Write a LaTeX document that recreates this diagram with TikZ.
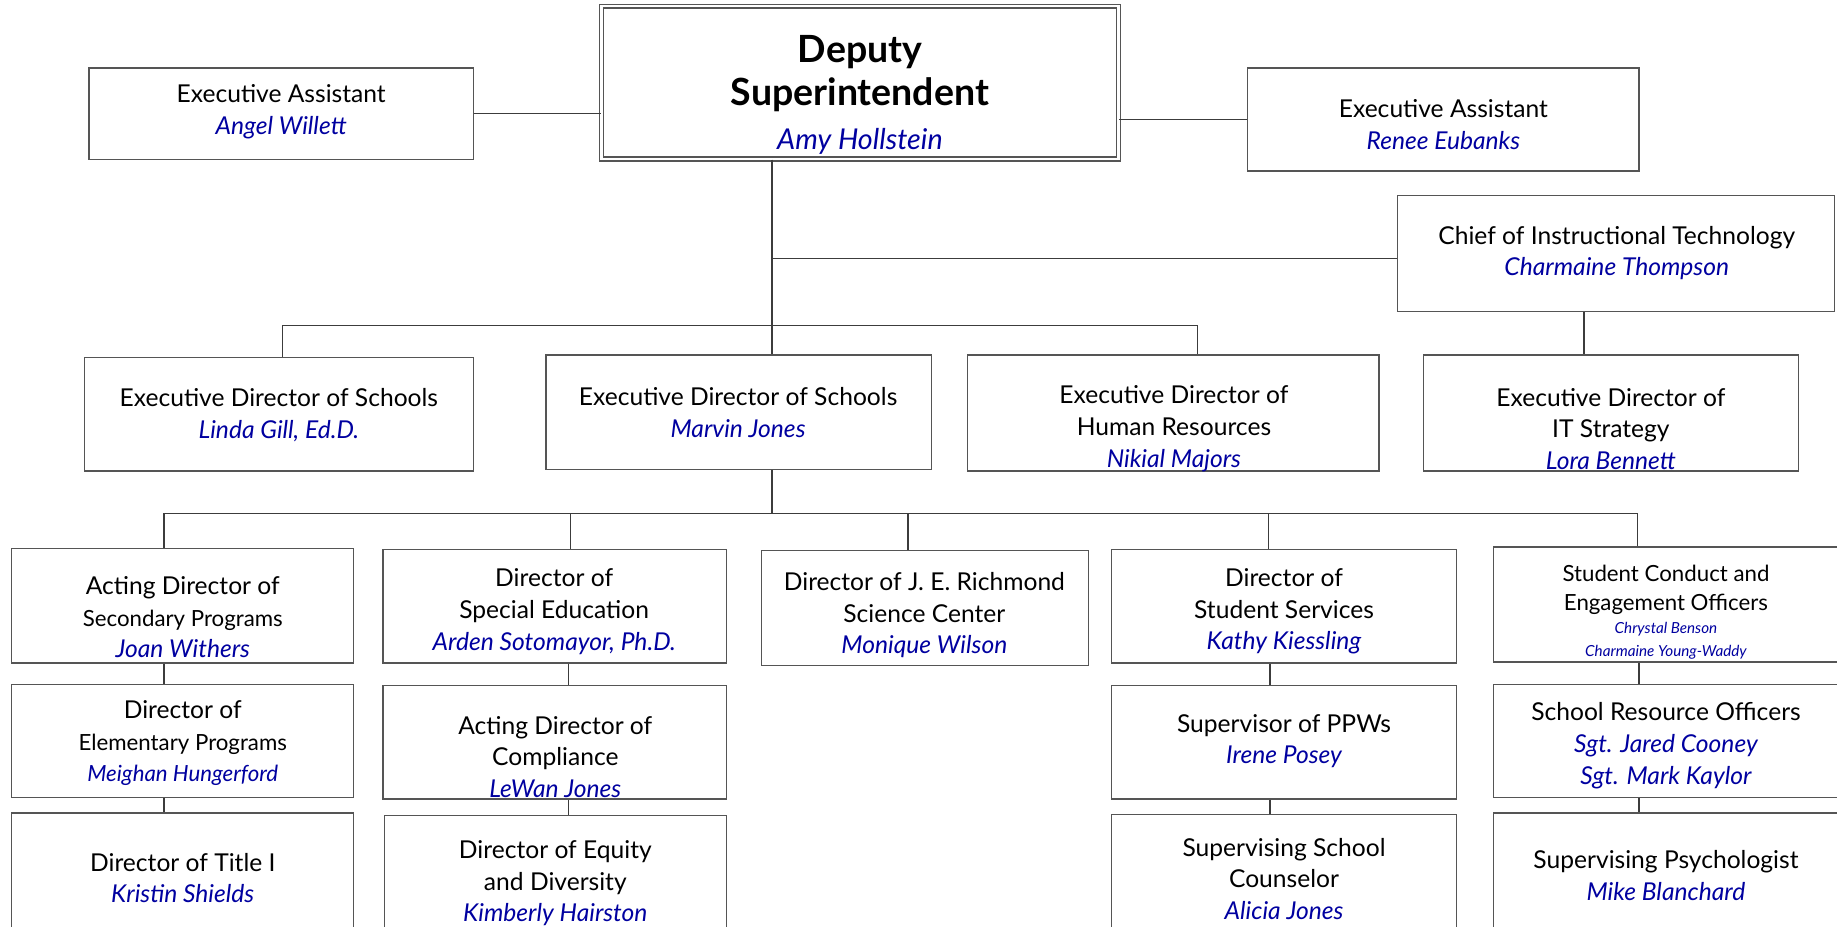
\documentclass[tikz,border=0pt]{standalone}
\usepackage{fontspec}
\setmainfont{Lato}
\usetikzlibrary{fit}
\definecolor{nm}{RGB}{0,0,160}
\definecolor{bd}{RGB}{85,85,85}
\definecolor{ln}{RGB}{60,60,60}
\newcommand{\nme}[1]{{\color{nm}\itshape #1}}
\newcommand{\fsz}[2]{\fontsize{#1}{#2}\selectfont}
\begin{document}
\begin{tikzpicture}[x=1pt,y=-1pt,
  box/.style={draw=bd, line width=1.1pt, inner sep=0pt},
  dbox/.style={draw=bd, line width=1.1pt, double=white, double distance=2.2pt, inner sep=0pt},
  lbl/.style={align=center, inner sep=0pt, font=\fsz{21}{27}},
  conn/.style={draw=ln, line width=1pt}]
\useasboundingbox (0,0) rectangle (1568,791);
\clip (0,0) rectangle (1568,791);
\fill[white] (0,0) rectangle (1568,791);

% boxes
\node[dbox, fit={(513.3,5.3)(954.7,135.7)}] (dep) {};
\node[box, fit={(76,58)(404,136)}] (eaL) {};
\node[box, fit={(1065,58)(1399,146)}] (eaR) {};
\node[box, fit={(1193,167)(1566,266)}] (chief) {};
\node[box, fit={(72,305)(404,402)}] (linda) {};
\node[box, fit={(466,303)(795,401)}] (marvin) {};
\node[box, fit={(826,303)(1177,402)}] (hr) {};
\node[box, fit={(1215,303)(1535,402)}] (it) {};
\node[box, fit={(10,468)(302,566)}] (sec) {};
\node[box, fit={(327,469)(620,566)}] (sped) {};
\node[box, fit={(650,470)(929,568)}] (rich) {};
\node[box, fit={(949,469)(1243,566)}] (sserv) {};
\node[box, fit={(1275,467)(1575,565)}] (cond) {};
\node[box, fit={(10,584)(302,681)}] (elem) {};
\node[box, fit={(327,585)(620,682)}] (compl) {};
\node[box, fit={(949,585)(1243,682)}] (ppw) {};
\node[box, fit={(1275,584)(1575,681)}] (sro) {};
\node[box, fit={(10,694)(302,800)}] (title) {};
\node[box, fit={(328,696)(620,800)}] (equity) {};
\node[box, fit={(949,695)(1243,800)}] (couns) {};
\node[box, fit={(1275,694)(1575,800)}] (psych) {};

% connector coordinates
\coordinate (dx) at (659,0);
\coordinate (cx) at (1352,0);
\coordinate (lx) at (241,278);
\coordinate (hx) at (1022,278);
\coordinate (mb) at (659,438);
\coordinate (b1) at (140,438);
\coordinate (b2) at (487,438);
\coordinate (b3) at (775,438);
\coordinate (b4) at (1083,438);
\coordinate (b5) at (1398,438);
\coordinate (c1) at (140,0);
\coordinate (c2) at (485,0);
\coordinate (c3) at (1084,0);
\coordinate (c4) at (1399,0);

% connectors
\draw[conn] (eaL.east) -- (eaL.east -| dep.west);
\draw[conn] (eaR.west) -- (eaR.west -| dep.east);
\draw[conn] (dep.south -| dx) -- (marvin.north -| dx);
\draw[conn] ([yshift=-4.5pt]chief.west) -- ([yshift=-4.5pt]chief.west -| dx);
\draw[conn] (chief.south -| cx) -- (it.north -| cx);
\draw[conn] (linda.north -| lx) -- (lx) -- (hx) -- (hr.north -| hx);
\draw[conn] (marvin.south -| dx) -- (mb);
\draw[conn] (sec.north -| b1) -- (b1) -- (b5) -- (cond.north -| b5);
\draw[conn] (b2) -- (sped.north -| b2);
\draw[conn] (b3) -- (rich.north -| b3);
\draw[conn] (b4) -- (sserv.north -| b4);
\draw[conn] (sec.south -| c1) -- (elem.north -| c1);
\draw[conn] (elem.south -| c1) -- (title.north -| c1);
\draw[conn] (sped.south -| c2) -- (compl.north -| c2);
\draw[conn] (compl.south -| c2) -- (equity.north -| c2);
\draw[conn] (sserv.south -| c3) -- (ppw.north -| c3);
\draw[conn] (ppw.south -| c3) -- (couns.north -| c3);
\draw[conn] (cond.south -| c4) -- (sro.north -| c4);
\draw[conn] (sro.south -| c4) -- (psych.north -| c4);

% texts
\node[lbl, font=\fsz{32}{37}] (dept) at (734,81) {{\bfseries Deputy}\\{\bfseries Superintendent}\\{\fsz{24.5}{37}\nme{Amy Hollstein}}};
\node[lbl] (eaLt) at (240,95.5) {Executive Assistant\\\nme{Angel Willett}};
\node[lbl] (eaRt) at (1232,106.5) {Executive Assistant\\\nme{Renee Eubanks}};
\node[lbl] (chieft) at (1380,216) {Chief of Instructional Technology\\\nme{Charmaine Thompson}};
\node[lbl] (lindat) at (238,354.5) {Executive Director of Schools\\\nme{Linda Gill, Ed.D.}};
\node[lbl] (marvint) at (630,352) {Executive Director of Schools\\\nme{Marvin Jones}};
\node[lbl] (hrt) at (1002,366) {Executive Director of\\Human Resources\\\nme{Nikial Majors}};
\node[lbl] (itt) at (1375,366) {Executive Director of\\IT Strategy\\\nme{Lora Bennett}};
\node[lbl] (sect) at (156,527) {Acting Director of\\{\fsz{19}{27}Secondary Programs}\\\nme{Joan Withers}};
\node[lbl] (spedt) at (473,522) {Director of\\Special Education\\\nme{Arden Sotomayor, Ph.D.}};
\node[lbl] (richt) at (789,525) {Director of J. E. Richmond\\Science Center\\\nme{Monique Wilson}};
\node[lbl] (sservt) at (1096,522) {Director of\\Student Services\\\nme{Kathy Kiessling}};
\node[lbl, font=\fsz{19}{24}] (condt) at (1422,503.5) {Student Conduct and\\Engagement Officers};
\node[lbl, font=\fsz{13}{19}] (condn) at (1422,547) {\nme{Chrystal Benson}\\\nme{Charmaine Young-Waddy}};
\node[lbl] (elemt) at (156,634.5) {Director of\\{\fsz{19}{27}Elementary Programs}\\{\fsz{19}{27}\nme{Meighan Hungerford}}};
\node[lbl] (complt) at (474,646) {Acting Director of\\Compliance\\\nme{LeWan Jones}};
\node[lbl] (ppwt) at (1096,632.5) {Supervisor of PPWs\\\nme{Irene Posey}};
\node[lbl] (srot) at (1422,636.5) {School Resource Officers\\\nme{Sgt. Jared Cooney}\\\nme{Sgt. Mark Kaylor}};
\node[lbl] (titlet) at (156,749.5) {Director of Title I\\\nme{Kristin Shields}};
\node[lbl] (equityt) at (474,754) {Director of Equity\\and Diversity\\\nme{Kimberly Hairston}};
\node[lbl] (counst) at (1096,750) {Supervising School\\Counselor\\\nme{Alicia Jones}};
\node[lbl] (psycht) at (1422,747.5) {Supervising Psychologist\\\nme{Mike Blanchard}};
\end{tikzpicture}
\end{document}
